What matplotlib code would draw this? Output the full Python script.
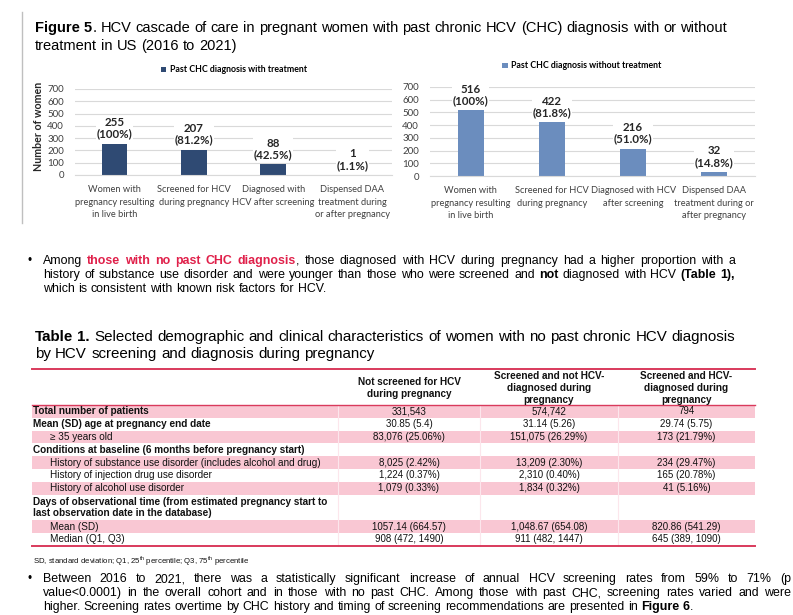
import matplotlib
matplotlib.use("Agg")
import matplotlib.pyplot as plt
from matplotlib.patches import Rectangle
from matplotlib.lines import Line2D

W, H = 793, 615

# -------------------------------
# Figure 5 data
# -------------------------------
stages_treated = ["Women with\npregnancy resulting\nin live birth",
                  "Screened for HCV\nduring pregnancy",
                  "Diagnosed with\nHCV after screening",
                  "Dispensed DAA\ntreatment during\nor after pregnancy"]
stages_untreated = ["Women with\npregnancy resulting\nin live birth",
                    "Screened for HCV\nduring pregnancy",
                    "Diagnosed with HCV\nafter screening",
                    "Dispensed DAA\ntreatment during or\nafter pregnancy"]
n_treated = [255, 207, 88, 1]
pct_treated = ["100%", "81.2%", "42.5%", "1.1%"]
n_untreated = [516, 422, 216, 32]
pct_untreated = ["100%", "81.8%", "51.0%", "14.8%"]

# -------------------------------
# Table 1 data
# -------------------------------
col_headers = ["Not screened for HCV\nduring pregnancy",
               "Screened and not HCV-\ndiagnosed during\npregnancy",
               "Screened and HCV-\ndiagnosed during\npregnancy"]
row_labels = ["Total number of patients",
              "Mean (SD) age at pregnancy end date",
              "\u2265 35 years old",
              "Conditions at baseline (6 months before pregnancy start)",
              "History of substance use disorder (includes alcohol and drug)",
              "History of injection drug use disorder",
              "History of alcohol use disorder",
              "Days of observational time (from estimated pregnancy start to\nlast observation date in the database)",
              "Mean (SD)",
              "Median (Q1, Q3)"]
not_screened = ["331,543", "30.85 (5.4)", "83,076 (25.06%)", "",
                "8,025 (2.42%)", "1,224 (0.37%)", "1,079 (0.33%)", "",
                "1057.14 (664.57)", "908 (472, 1490)"]
screened_neg = ["574,742", "31.14 (5.26)", "151,075 (26.29%)", "",
                "13,209 (2.30%)", "2,310 (0.40%)", "1,834 (0.32%)", "",
                "1,048.67 (654.08)", "911 (482, 1447)"]
screened_pos = ["794", "29.74 (5.75)", "173 (21.79%)", "",
                "234 (29.47%)", "165 (20.78%)", "41 (5.16%)", "",
                "820.86 (541.29)", "645 (389, 1090)"]

TXT = ["Liberation Sans", "DejaVu Sans"]
CHART = ["Lato", "DejaVu Sans"]
RED = "#D93A5C"
PINK = "#F9C7D3"

plt.rcParams["mathtext.fontset"] = "custom"
plt.rcParams["mathtext.rm"] = "Liberation Sans"

fig = plt.figure(figsize=(W / 100, H / 100), dpi=100, facecolor="white")
page = fig.add_axes([0, 0, 1, 1])
page.set_xlim(0, W)
page.set_ylim(H, 0)
page.axis("off")
renderer = fig.canvas.get_renderer()


def rich_line(x0, y, parts, size, x1=None):
    # parts: (text, weight, color); words are spread to x1 when given
    words = [[]]
    for txt, weight, color in parts:
        for i, piece in enumerate(txt.split(" ")):
            if i > 0:
                words.append([])
            if piece:
                words[-1].append((piece, weight, color))
    words = [w for w in words if w]
    placed = []
    for w in words:
        row, tot = [], 0
        for piece, weight, color in w:
            t = page.text(0, y, piece, fontsize=size, fontweight=weight, color=color,
                          family=TXT, va="baseline", ha="left")
            wd = t.get_window_extent(renderer).width
            row.append((t, wd))
            tot += wd
        placed.append((row, tot))
    a = page.text(0, 0, "x x", fontsize=size, family=TXT)
    b = page.text(0, 0, "xx", fontsize=size, family=TXT)
    space = a.get_window_extent(renderer).width - b.get_window_extent(renderer).width
    a.remove()
    b.remove()
    if x1 is not None and len(placed) > 1:
        gap = (x1 - x0 - sum(p[1] for p in placed)) / (len(placed) - 1)
    else:
        gap = space
    x = x0
    for row, tot in placed:
        xx = x
        for t, wd in row:
            t.set_x(xx)
            xx += wd
        x += tot + gap


# -------------------------------
# Title of figure 5
# -------------------------------
page.add_line(Line2D([22, 22], [12, 223], color="#BFBFBF", lw=1))
K = "#000000"
rich_line(35, 32, [("Figure 5", "bold", K),
                   (". HCV cascade of care in pregnant women with past chronic HCV (CHC) diagnosis with or without", "normal", K)], 10.55)
rich_line(35, 50, [("treatment in US (2016 to 2021)", "normal", K)], 10.55)


# -------------------------------
# Bar charts
# -------------------------------
def cascade(rect, stages, counts, pcts, color, label, legend_x, legend_y):
    ax = fig.add_axes(rect)
    xs = range(len(counts))
    bars = ax.bar(xs, counts, width=0.32, color=color, zorder=2)
    for x, n, p in zip(xs, counts, pcts):
        ax.annotate(f"{n}\n({p})", (x, n), xytext=(0, 3), textcoords="offset points",
                    ha="center", va="bottom", fontsize=8.3, fontweight="bold", family=CHART,
                    color="#262626", linespacing=1.05, zorder=3,
                    bbox=dict(facecolor="white", edgecolor="none", pad=0.5))
    ax.set_xlim(-0.5, len(counts) - 0.5)
    ax.set_ylim(0, 700)
    ax.set_yticks(range(0, 701, 100))
    ax.yaxis.grid(True, color="#D9D9D9", lw=0.8)
    ax.set_axisbelow(True)
    for s in ["top", "right", "left"]:
        ax.spines[s].set_visible(False)
    ax.spines["bottom"].set_color("#D9D9D9")
    ax.set_xticks(list(xs))
    ax.set_xticklabels(stages, fontsize=6.7, family=CHART, color="#404040", linespacing=1.45)
    ax.tick_params(axis="x", length=0, pad=7.5)
    ax.tick_params(axis="y", length=0, pad=8, labelsize=7, labelcolor="#404040")
    for t in ax.get_yticklabels():
        t.set_family(CHART)
    fig.legend([bars], [label], loc="center", bbox_to_anchor=(legend_x / W, 1 - legend_y / H),
               frameon=False, handlelength=0.6, handleheight=0.6, handletextpad=0.4,
               prop=dict(family=CHART, weight="bold", size=6.3))
    return ax


ax1 = cascade([75 / W, 1 - 175 / H, 317 / W, 86 / H], stages_treated, n_treated, pct_treated,
              "#2F4A73", "Past CHC diagnosis with treatment", 234, 70)
ax1.set_ylabel("Number of women", fontsize=7.7, fontweight="bold", family=CHART, color="#262626")
ax1.yaxis.set_label_coords(-0.098, 0.56)
ax2 = cascade([430 / W, 1 - 176 / H, 325 / W, 89 / H], stages_untreated, n_untreated, pct_untreated,
              "#6B8DBE", "Past CHC diagnosis without treatment", 582, 66)

# -------------------------------
# Bullet 1
# -------------------------------
RED_TXT = "#E0204A"
FS = 8.9
page.text(28, 264, "\u2022", fontsize=8.5, family=TXT, va="baseline")
rich_line(43, 264, [("Among ", "normal", K), ("those with no past CHC diagnosis", "bold", RED_TXT),
                    (", those diagnosed with HCV during pregnancy had a higher proportion with a", "normal", K)],
          FS, x1=735)
rich_line(43, 278, [("history of substance use disorder and were younger than those who were screened and ", "normal", K),
                    ("not", "bold", K), (" diagnosed with HCV ", "normal", K), ("(Table 1),", "bold", K)],
          FS, x1=735)
rich_line(43, 292, [("which is consistent with known risk factors for HCV.", "normal", K)], FS)

# -------------------------------
# Table 1
# -------------------------------
rich_line(35, 341, [("Table 1.", "bold", K),
                    (" Selected demographic and clinical characteristics of women with no past chronic HCV diagnosis", "normal", K)], 10.9)
rich_line(35, 358, [("by HCV screening and diagnosis during pregnancy", "normal", K)], 10.9)

tx0, tx1 = 32, 755
col_edges = [338, 480, 618, 755]
col_centers = [(col_edges[i] + col_edges[i + 1]) / 2 for i in range(3)]
row_units = [1, 1, 1, 1, 1, 1, 1, 2, 1, 1]
row_bold = [True, True, False, True, False, False, False, True, False, False]
row_shade = [True, False, True, False, True, False, True, False, True, False]
unit = 12.8
top_body = 405
TF = 7.2

y = top_body
for i, lab in enumerate(row_labels):
    h = row_units[i] * unit
    if row_shade[i]:
        page.add_patch(Rectangle((tx0, y), tx1 - tx0, h, facecolor=PINK, edgecolor="none"))
    yc = y + h / 2
    xl = 33 if row_bold[i] else 50
    page.text(xl, yc, lab, fontsize=TF, fontweight="bold" if row_bold[i] else "normal",
              family=TXT, va="center", ha="left", color="#111111", linespacing=1.2)
    for c, col in enumerate([not_screened, screened_neg, screened_pos]):
        if col[i]:
            page.text(col_centers[c], yc, col[i], fontsize=7.0, family=TXT,
                      va="center", ha="center", color="#111111")
    y += h
bottom_body = y

for xe in col_edges[:-1]:
    page.add_line(Line2D([xe, xe], [top_body, bottom_body], color="#FCE6EC", lw=0.8))
for c, head in enumerate(col_headers):
    page.text(col_centers[c], 388, head, fontsize=TF, fontweight="bold", family=TXT,
              ha="center", va="center", color="#111111", linespacing=1.3)

page.add_line(Line2D([tx0, tx1], [369, 369], color=RED, lw=1.4))
page.add_line(Line2D([tx0, tx1], [top_body, top_body], color=RED, lw=1.0))
page.add_line(Line2D([tx0, tx1], [bottom_body, bottom_body], color=RED, lw=1.4))

page.text(33, 563, "SD, standard deviation; Q1, 25$^{\\mathrm{th}}$ percentile; Q3, 75$^{\\mathrm{th}}$ percentile",
          fontsize=5.6, family=TXT, va="baseline", ha="left", color="#111111")

# -------------------------------
# Bullet 2
# -------------------------------
page.text(28, 582, "\u2022", fontsize=8.5, family=TXT, va="baseline")
rich_line(43, 582, [("Between 2016 to 2021, there was a statistically significant increase of annual HCV screening rates from 59% to 71% (p", "normal", K)],
          FS, x1=791)
rich_line(43, 596, [("value<0.0001) in the overall cohort and in those with no past CHC. Among those with past CHC, screening rates varied and were", "normal", K)],
          FS, x1=791)
rich_line(43, 610, [("higher. Screening rates overtime by CHC history and timing of screening recommendations are presented in ", "normal", K),
                    ("Figure 6", "bold", K), (".", "normal", K)], FS)

fig.savefig("out.png", dpi=100, facecolor="white")
